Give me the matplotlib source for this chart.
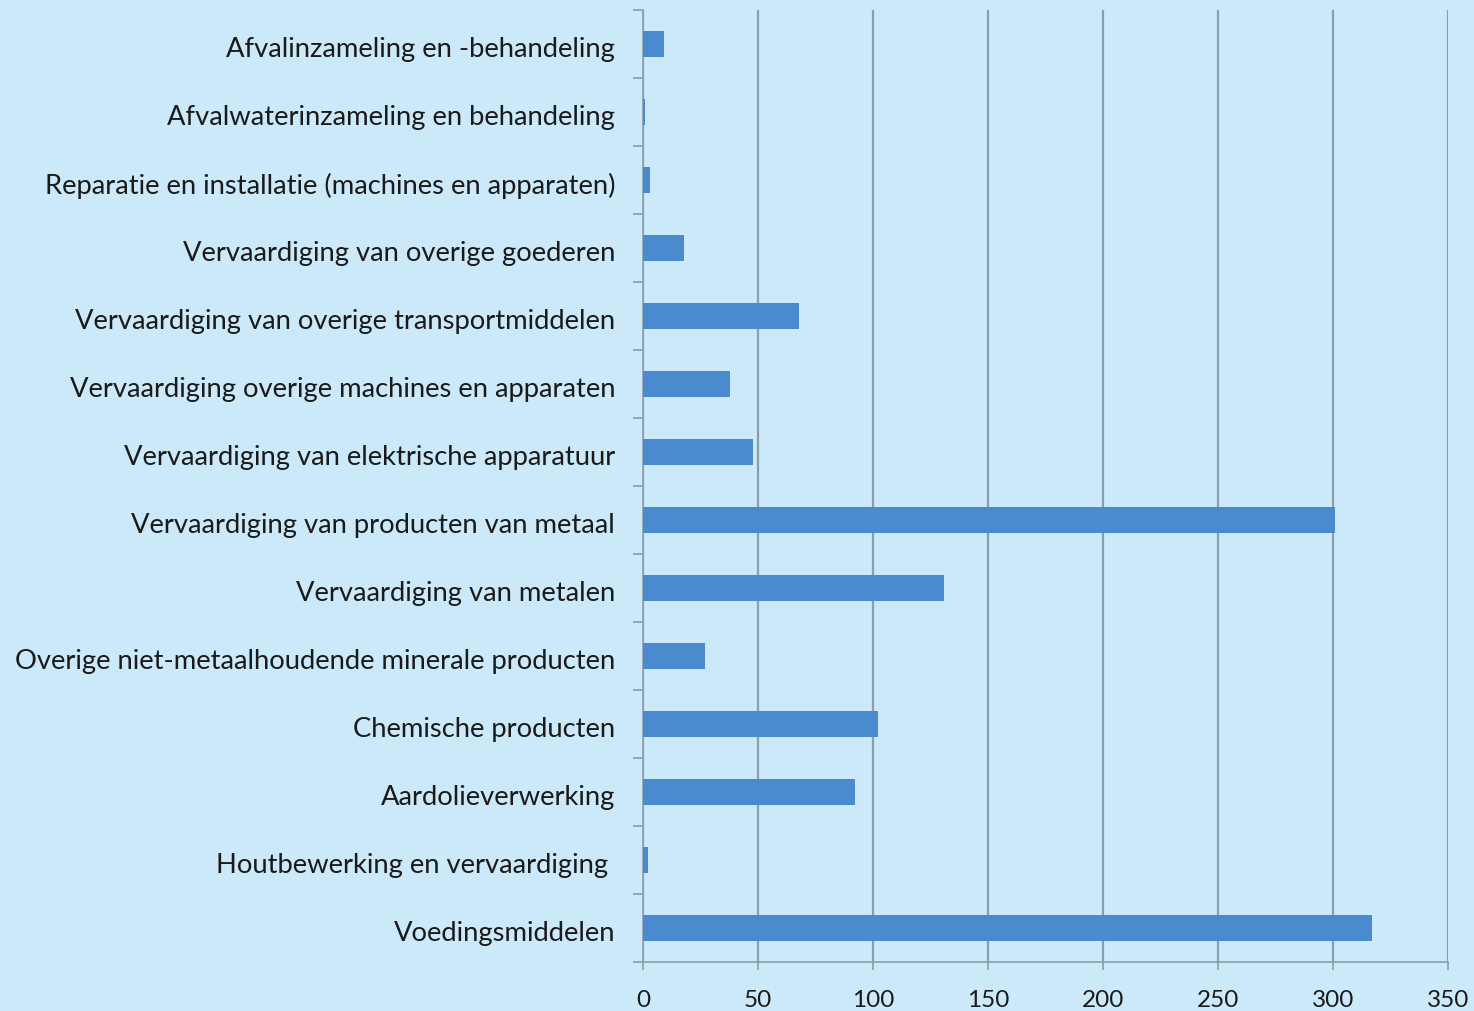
import matplotlib
matplotlib.use("Agg")
import matplotlib.pyplot as plt
import matplotlib.transforms as mtransforms
import numpy as np

# categories top to bottom, as in the picture
categories = [
    "Afvalinzameling en -behandeling",
    "Afvalwaterinzameling en behandeling",
    "Reparatie en installatie (machines en apparaten)",
    "Vervaardiging van overige goederen",
    "Vervaardiging van overige transportmiddelen",
    "Vervaardiging overige machines en apparaten",
    "Vervaardiging van elektrische apparatuur",
    "Vervaardiging van producten van metaal",
    "Vervaardiging van metalen",
    "Overige niet-metaalhoudende minerale producten",
    "Chemische producten",
    "Aardolieverwerking",
    "Houtbewerking en vervaardiging ",
    "Voedingsmiddelen",
]
values = [9, 1, 3, 18, 68, 38, 48, 301, 131, 27, 102, 92, 2, 317]
x_ticks = [0, 50, 100, 150, 200, 250, 300, 350]

bg = "#cce9f9"
bar_color = "#4a8bd0"
line_color = "#8c9ea8"

fig = plt.figure(figsize=(14.74, 10.11), dpi=100, facecolor=bg)
ax = fig.add_axes([0.4362, 0.0485, 0.5462, 0.9415], facecolor=bg)

n = len(categories)
ypos = np.arange(n)
ax.barh(ypos, values, height=0.38, color=bar_color, zorder=3)

ax.set_ylim(n - 0.5, -0.5)
ax.set_xlim(0, 350)
ax.set_xticks(x_ticks)
ax.set_xticklabels([str(t) for t in x_ticks])

ax.set_yticks(ypos)
ax.set_yticklabels(categories)
ax.set_yticks(np.arange(n + 1) - 0.5, minor=True)

ax.grid(axis="x", color=line_color, linewidth=1.6, zorder=1)
ax.grid(axis="y", visible=False)

for s in ["top", "right"]:
    ax.spines[s].set_visible(False)
for s in ["left", "bottom"]:
    ax.spines[s].set_color(line_color)
    ax.spines[s].set_linewidth(1.2)

ax.tick_params(axis="y", which="major", length=0, pad=20, labelsize=19.7, labelcolor="#1a1a1a")
ax.tick_params(axis="y", which="minor", length=7, width=1.2, color=line_color, direction="out")
ax.tick_params(axis="x", length=6, width=1.2, color=line_color, pad=14, labelsize=17.5, labelcolor="#1a1a1a")

# nudge the category labels down a little, like the original
shift = mtransforms.ScaledTranslation(0, -3 / 100, fig.dpi_scale_trans)
for lbl in ax.get_yticklabels():
    lbl.set_fontfamily("Lato")
    lbl.set_transform(lbl.get_transform() + shift)
for lbl in ax.get_xticklabels():
    lbl.set_fontfamily("Lato")

fig.savefig("out.png", dpi=100, facecolor=bg)
